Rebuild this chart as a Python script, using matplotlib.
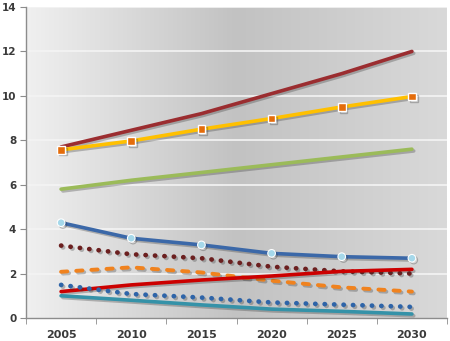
import numpy as np
import matplotlib
matplotlib.use("Agg")
import matplotlib.pyplot as plt
from matplotlib import patheffects as pe
from matplotlib.colors import LinearSegmentedColormap

years = ["2005", "2010", "2015", "2020", "2025", "2030"]

dark_red_line = [7.7, 8.45, 9.2, 10.1, 11.0, 12.0]
gold_line = [7.57, 7.97, 8.5, 8.98, 9.5, 9.97]
green_line = [5.8, 6.2, 6.55, 6.9, 7.25, 7.6]
blue_line = [4.29, 3.59, 3.29, 2.91, 2.76, 2.69]
maroon_dotted = [3.26, 2.87, 2.69, 2.31, 2.1, 2.0]
orange_dashed = [2.08, 2.28, 2.05, 1.68, 1.38, 1.19]
red_line = [1.19, 1.49, 1.71, 1.89, 2.1, 2.19]
blue_dotted = [1.49, 1.08, 0.92, 0.7, 0.6, 0.5]
teal_line = [1.0, 0.8, 0.59, 0.4, 0.3, 0.18]

y_ticks = [0, 2, 4, 6, 8, 10, 12, 14]

fig = plt.figure(figsize=(4.5, 3.41), dpi=100)
fig.patch.set_facecolor("white")
ax = fig.add_axes([26 / 450, 23 / 341, 421 / 450, 311 / 341])
x = np.arange(len(years))
ax.set_xlim(-0.5, len(years) - 0.5)
ax.set_ylim(0, 14)

# horizontal grey gradient behind the plot area
grad = LinearSegmentedColormap.from_list(
    "bg", [(0.0, "#f0f0f0"), (0.5, "#c2c2c2"), (1.0, "#d9d9d9")])
ax.imshow(np.linspace(0, 1, 256)[None, :], aspect="auto", cmap=grad,
          extent=[-0.5, len(years) - 0.5, 0, 14], zorder=0)

for yv in y_ticks[1:]:
    ax.axhline(yv, color="#f4f4f4", lw=1.2, zorder=1)

shadow = [pe.SimpleLineShadow(offset=(1.3, -1.3), alpha=0.3, shadow_color="#333333"),
          pe.Normal()]

def draw(vals, color, lw=2.6, **kw):
    ax.plot(x, vals, color=color, lw=lw, zorder=3, path_effects=shadow,
            solid_capstyle="round", **kw)

draw(dark_red_line, "#9b2d30")
draw(gold_line, "#ffc000", marker="s", markersize=5.5,
     markerfacecolor="#e46c0a", markeredgecolor="white", markeredgewidth=1.0)
draw(green_line, "#9bbb59")
draw(blue_line, "#3b68a8", marker="o", markersize=5.5,
     markerfacecolor="#a5d8ea", markeredgecolor="white", markeredgewidth=0.8)
draw(maroon_dotted, "#6b1f1f", lw=3.4, linestyle=(0, (0.05, 1.95)),
     dash_capstyle="round")
draw(orange_dashed, "#f0821e", lw=2.8, linestyle=(0, (1.6, 2.3)),
     dash_capstyle="round")
draw(red_line, "#cc0000")
draw(blue_dotted, "#2e64a8", lw=3.4, linestyle=(0, (0.05, 1.95)),
     dash_capstyle="round")
draw(teal_line, "#3592a8")

for s in ["top", "right"]:
    ax.spines[s].set_visible(False)
for s in ["left", "bottom"]:
    ax.spines[s].set_color("#8c8c8c")
    ax.spines[s].set_linewidth(1.0)

ax.set_yticks(y_ticks)
ax.set_yticklabels([str(v) for v in y_ticks])
ax.set_xticks(x)
ax.set_xticklabels(years)
ax.set_xticks(np.arange(-0.5, len(years), 1.0), minor=True)
ax.tick_params(axis="x", which="major", length=0, pad=9)
ax.tick_params(axis="x", which="minor", length=4, color="#8c8c8c", direction="out")
ax.tick_params(axis="y", length=4, color="#8c8c8c", pad=3)
for lab in ax.get_xticklabels():
    lab.set_fontsize(8)
    lab.set_fontweight("bold")
    lab.set_color("#3a3a3a")
for lab in ax.get_yticklabels():
    lab.set_fontsize(7.5)
    lab.set_fontweight("bold")
    lab.set_color("#3a3a3a")

fig.savefig("out.png", dpi=100)
